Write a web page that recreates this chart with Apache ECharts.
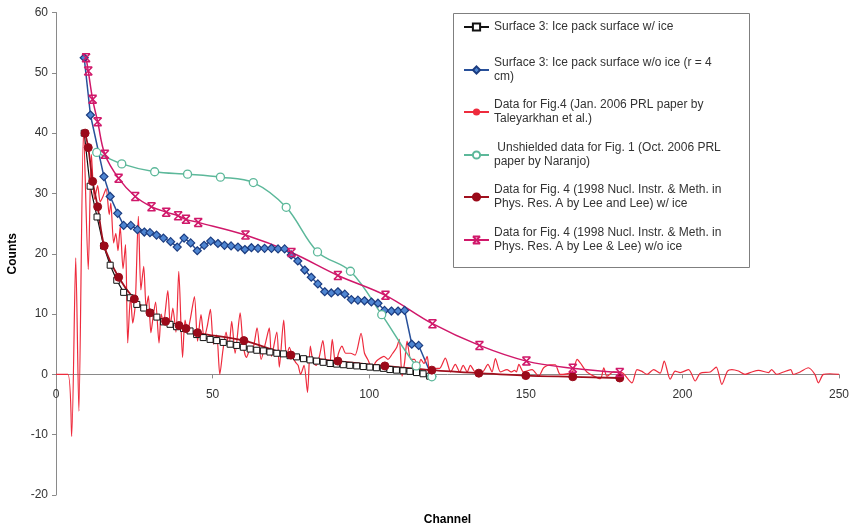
<!DOCTYPE html>
<html><head><meta charset="utf-8">
<script src="https://cdn.jsdelivr.net/npm/echarts@6/dist/echarts.min.js"></script>
<style>html,body{margin:0;padding:0;background:#fff}#c{width:852px;height:531px}</style>
</head><body><div id="c"></div>
<script>
// Axis ticks
const xTicks = [0, 50, 100, 150, 200, 250];
const yTicks = [-20, -10, 0, 10, 20, 30, 40, 50, 60];

// Series names (legend text)
const names = [
  "Surface 3: Ice pack surface w/ ice",
  "Surface 3: Ice pack surface w/o ice (r = 4\ncm)",
  "Data for Fig.4 (Jan. 2006 PRL paper by\nTaleyarkhan et al.)",
  " Unshielded data for Fig. 1 (Oct. 2006 PRL\npaper by Naranjo)",
  "Data for Fig. 4 (1998 Nucl. Instr. & Meth. in\nPhys. Res. A by Lee and Lee) w/ ice",
  "Data for Fig. 4 (1998 Nucl. Instr. & Meth. in\nPhys. Res. A by Lee & Lee) w/o ice"
];

// [channel, counts]
const surfaceWithIce = [[9,40],[10.9,31.2],[13.1,26.1],[15.2,21.3],[17.3,18.1],[19.4,15.6],[21.6,13.6],[23.7,12.7],[25.8,11.6],[28,11.0],[30.1,10.2],[32.2,9.5],[34.3,8.7],[36.4,8.3],[38.5,7.9],[40.7,7.6],[42.8,7.2],[44.9,6.6],[47,6.1],[49.2,5.8],[51.3,5.6],[53.4,5.3],[55.6,5.0],[57.7,4.8],[59.8,4.5],[62,4.2],[64.1,4.0],[66.2,3.9],[68.3,3.7],[70.5,3.5],[72.6,3.4],[74.7,3.1],[76.8,2.9],[79,2.6],[81.1,2.4],[83.2,2.2],[85.3,2.0],[87.5,1.8],[89.6,1.7],[91.7,1.6],[93.8,1.5],[96,1.4],[98.1,1.3],[100.2,1.2],[102.3,1.1],[104.5,1.0],[106.6,0.8],[108.7,0.7],[110.8,0.6],[113,0.5],[115.1,0.3],[117.2,0.1],[119.3,-0.3]];

const surfaceWithoutIce = [[9,52.5],[11,43],[15.3,32.8],[17.3,29.5],[19.7,26.7],[21.6,24.7],[23.9,24.7],[26,24.0],[28.2,23.6],[30,23.5],[32.1,23.1],[34.3,22.6],[36.6,22.0],[38.7,21.1],[40.9,22.6],[43,21.8],[45.1,20.5],[47.3,21.4],[49.4,22.1],[51.7,21.7],[53.8,21.4],[55.9,21.3],[58.1,21.1],[60.3,20.7],[62.4,21.0],[64.5,20.9],[66.6,20.9],[68.8,20.9],[70.9,20.8],[73,20.8],[75.1,19.8],[77.2,18.8],[79.4,17.3],[81.5,16.1],[83.6,15.0],[85.8,13.7],[87.9,13.5],[90,13.7],[92.2,13.3],[94.3,12.4],[96.4,12.3],[98.5,12.2],[100.7,12.0],[102.8,11.8],[104.9,10.6],[107.1,10.5],[109.2,10.5],[111.3,10.6],[113.6,5.0],[115.8,4.8],[120,-0.3]];

const taleyarkhan = [[0,0],[3.8,0],[5.0,-10.3],[6.3,19.3],[7.3,-6.1],[8.8,40.5],[10.3,17.4],[11.3,36.5],[12.3,29],[13.3,31.3],[14.1,28.6],[15.0,29.5],[16.0,30.8],[17.0,26.5],[17.5,28.4],[18.4,21.8],[19.1,23.4],[19.8,20.5],[20.5,24.5],[21.4,17.5],[22.2,21.5],[22.9,5.2],[23.8,13],[24.5,8.5],[25.3,11.5],[26.3,26.2],[27.1,14],[28.0,17.9],[28.8,11],[29.5,13],[30.3,6.9],[31.0,9.5],[31.8,12],[32.9,5.2],[33.6,10],[34.3,8.5],[35.7,13.9],[36.5,8],[37.3,11],[38.3,7],[39.2,17.1],[40.4,2.8],[41.2,9],[42.0,7.2],[43.0,9.5],[44.2,12.9],[45.2,5.5],[46.3,9.9],[47.3,6],[48.3,8],[49.3,10.8],[50.3,5],[51.3,6.5],[52.3,0],[53.3,4],[54.3,7],[55.2,4.5],[56.1,8.8],[57.2,3.5],[58.8,10.2],[59.7,5],[60.8,2.8],[61.8,4],[63.0,4.5],[64.2,7.7],[65.5,2.5],[66.8,5],[68.1,7.7],[68.8,3],[70.5,7],[71.3,1.2],[72.7,9],[73.6,3],[74.5,4.5],[75.5,3],[76.5,2],[77.3,1.5],[78.1,0],[79.2,1.5],[80.3,-3.0],[81.2,4.7],[82.1,2],[83.1,1.5],[84.1,3],[85.2,5.6],[86.2,2],[87.3,1.5],[88.2,5.8],[89.3,1.5],[90.2,3.5],[91.3,4.7],[92.5,3.5],[94,3.5],[95.5,3.2],[97.4,6.8],[98.5,3.5],[99.5,2.5],[101,1],[102,2],[103,2.5],[104.7,3],[106,2.5],[107.5,3.5],[108.8,4.5],[109.6,5.8],[110.5,-0.3],[111.3,2],[112.1,5.5],[113.3,2.5],[114.5,2.5],[115.5,0.8],[116.5,2.5],[117.5,1.8],[118.5,3],[119.3,0.5],[120.3,0.5],[121.5,1],[122.5,1],[124.3,2.7],[126,0.4],[127.5,1.65],[128.9,0.4],[130.0,1.5],[131.3,0.4],[132.3,1.5],[133.9,0.4],[136.1,0.4],[137.9,1.65],[139.2,0.4],[140.3,2.6],[141.9,0.4],[144.0,0.8],[145.3,0.4],[146.4,0.65],[147.0,0.4],[147.8,1.65],[149.3,0.4],[152.0,0.8],[154.1,-0.3],[155.7,1.1],[157.8,1.6],[159.4,1.6],[161.0,0],[164.8,0.4],[166.4,2.5],[167.4,1.9],[169.5,0.4],[173.8,-0.7],[174.9,1.1],[175.9,-0.3],[178.0,0.4],[180.7,0.3],[183.9,-1.4],[185.5,0.8],[187.1,0.5],[188.7,0],[190.8,0.8],[192.9,0.2],[194.2,2.2],[196.1,-0.8],[197.7,0.55],[199.3,0.3],[202,0.8],[204.1,-1.1],[205.7,0.2],[208.9,0.4],[210.8,1.2],[212.6,-1.65],[214.4,0.55],[215.8,0.8],[217.9,0.55],[220,0],[222.2,0.4],[224.3,0.65],[227.5,0.3],[228.5,0.8],[230.1,0],[232.3,0.4],[234.6,0.8],[235.4,0],[237.6,0.4],[240.2,1.1],[242.3,0],[243.4,-1.4],[245,0],[247.1,0.1],[250,0]];

const naranjo = [[13,36.8],[21,34.9],[31.5,33.6],[42,33.2],[52.5,32.7],[63,31.8],[73.5,27.7],[83.5,20.3],[94,17.1],[104,9.9],[115,1.4],[120,-0.4]];

const leeWithIce = [[9.3,40],[10.3,37.6],[11.7,32],[13.3,27.8],[15.4,21.3],[20,16.1],[25,12.5],[30,10.2],[35,8.8],[39.3,8.1],[41.5,7.6],[45.2,6.9],[60,5.6],[75,3.2],[90,2.2],[105,1.4],[120,0.7],[135,0.2],[150,-0.2],[165,-0.4],[180,-0.6]];

const leeWithoutIce = [[9.6,52.5],[10.3,50.3],[11.7,45.6],[13.3,41.9],[15.6,36.5],[20,32.5],[25.3,29.5],[30.5,27.8],[35.2,26.9],[39,26.3],[41.5,25.7],[45.4,25.2],[60.5,23.1],[75.2,20.2],[90,16.4],[105.2,13.1],[120.2,8.4],[135.2,4.8],[150.2,2.2],[165,1.0],[180,0.3]];

const font = 'Arial, "Liberation Sans", sans-serif';
const starPath = 'path://M0,0L10,10M10,0L0,10M0,0L10,0M0,10L10,10';

const gridTop = 12.5, gridBottom = 36, chartH = 531;
const plotH = chartH - gridTop - gridBottom;
// Shift the x axis from the bottom of the grid up to the zero line
const zeroOffset = -plotH * (0 - yTicks[0]) / (yTicks[yTicks.length - 1] - yTicks[0]);

const legendTops = [20, 49, 91, 134, 176, 219];
const legends = names.map((n, i) => ({
  data: [{name: n}],
  orient: 'vertical',
  left: 463,
  top: legendTops[i],
  padding: 0,
  itemWidth: 25,
  itemHeight: 9,
  selectedMode: false,
  textStyle: {
    fontFamily: font, fontSize: 12, color: '#333', lineHeight: 14,
    padding: i === 0 ? 0 : [14, 0, 0, 0]
  }
}));

const chart = echarts.init(document.getElementById('c'), null, {renderer: 'canvas'});
chart.setOption({
  animation: false,
  backgroundColor: '#fff',
  grid: {left: 56, right: 13, top: gridTop, bottom: gridBottom, containLabel: false, outerBoundsMode: 'none'},
  graphic: [{
    type: 'rect', z: 0,
    shape: {x: 453.5, y: 13.5, width: 296, height: 254},
    style: {fill: '#fff', stroke: '#7f7f7f', lineWidth: 1}
  }],
  legend: legends,
  xAxis: {
    type: 'value', position: 'bottom', offset: zeroOffset,
    min: xTicks[0], max: xTicks[xTicks.length - 1], interval: xTicks[1] - xTicks[0],
    name: 'Channel', nameLocation: 'middle', nameGap: 139,
    nameTextStyle: {fontFamily: font, fontSize: 12, fontWeight: 'bold', color: '#000'},
    axisLine: {onZero: false, lineStyle: {color: '#8a8a8a', width: 1}},
    axisTick: {show: true, length: 4, lineStyle: {color: '#8a8a8a'}},
    axisLabel: {fontFamily: font, fontSize: 12, color: '#333', margin: 14},
    splitLine: {show: false}
  },
  yAxis: {
    type: 'value',
    min: yTicks[0], max: yTicks[yTicks.length - 1], interval: yTicks[1] - yTicks[0],
    name: 'Counts', nameLocation: 'middle', nameGap: 37, nameRotate: 90,
    nameTextStyle: {fontFamily: font, fontSize: 12, fontWeight: 'bold', color: '#000'},
    axisLine: {show: true, lineStyle: {color: '#8a8a8a', width: 1}},
    axisTick: {show: true, length: 4, lineStyle: {color: '#8a8a8a'}},
    axisLabel: {fontFamily: font, fontSize: 12, color: '#333', margin: 8},
    splitLine: {show: false}
  },
  series: [
    {
      name: names[0], type: 'line', data: surfaceWithIce,
      symbol: 'rect', symbolSize: 6, showAllSymbol: true,
      itemStyle: {color: '#fff', borderColor: '#111', borderWidth: 1},
      lineStyle: {color: '#111', width: 1.2}
    },
    {
      name: names[1], type: 'line', data: surfaceWithoutIce,
      symbol: 'diamond', symbolSize: 8, showAllSymbol: true,
      itemStyle: {color: '#4f86d2', borderColor: '#1b3c80', borderWidth: 1.2},
      lineStyle: {color: '#28509a', width: 1.5}
    },
    {
      name: names[2], type: 'line', data: taleyarkhan,
      symbol: 'none', smooth: 0.25,
      itemStyle: {color: '#ee2b3d'},
      lineStyle: {color: '#ee2b3d', width: 1.2}
    },
    {
      name: names[3], type: 'line', data: naranjo,
      symbol: 'circle', symbolSize: 8, smooth: 0.35,
      itemStyle: {color: '#fff', borderColor: '#5cb89a', borderWidth: 1.3},
      lineStyle: {color: '#5cb89a', width: 1.5}
    },
    {
      name: names[4], type: 'line', data: leeWithIce,
      symbol: 'circle', symbolSize: 8, smooth: 0.3, showAllSymbol: true,
      itemStyle: {color: '#9b0a1a', borderColor: '#9b0a1a', borderWidth: 1},
      lineStyle: {color: '#a0101e', width: 1.8}
    },
    {
      name: names[5], type: 'line', data: leeWithoutIce,
      symbol: starPath, symbolSize: 8, smooth: 0.35, showAllSymbol: true,
      itemStyle: {color: '#d0186a', borderColor: '#d0186a', borderWidth: 1.5},
      lineStyle: {color: '#d0186a', width: 1.5}
    }
  ]
});
</script>
</body></html>
